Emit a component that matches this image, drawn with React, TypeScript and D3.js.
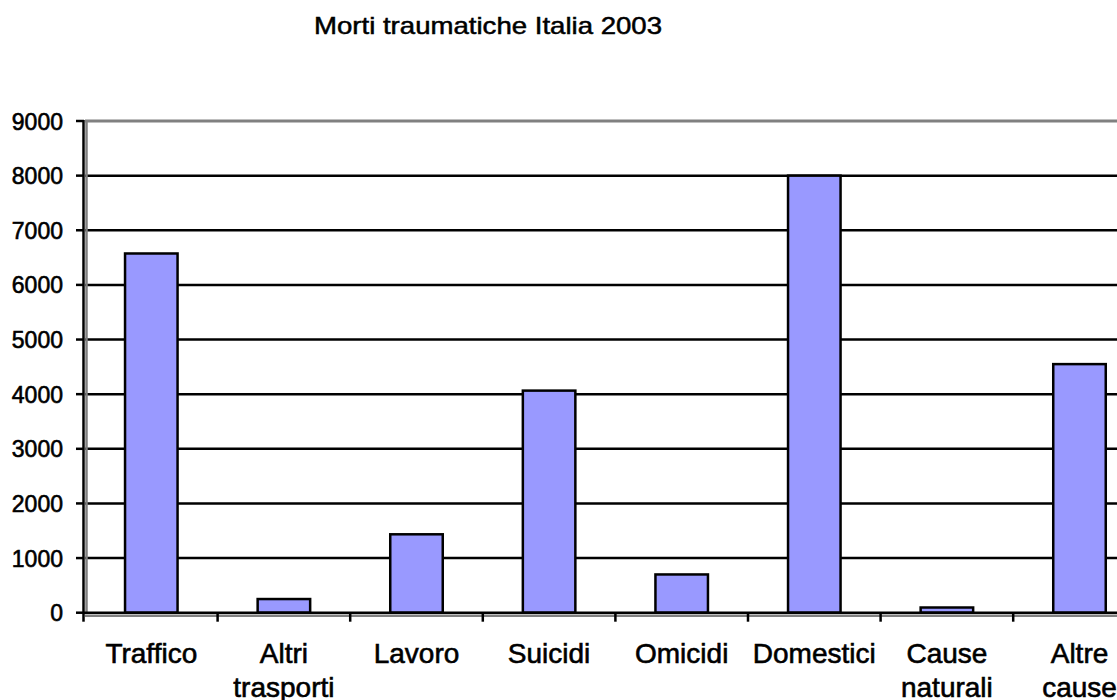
import React from "react";
import * as d3 from "d3";

const title = "Morti traumatiche Italia 2003";
const categories = [
  ["Traffico"],
  ["Altri", "trasporti"],
  ["Lavoro"],
  ["Suicidi"],
  ["Omicidi"],
  ["Domestici"],
  ["Cause", "naturali"],
  ["Altre", "cause"],
];
const values = [6575, 250, 1435, 4065, 700, 8000, 95, 4550];
const yTicks = [0, 1000, 2000, 3000, 4000, 5000, 6000, 7000, 8000, 9000];

const W = 1117;
const H = 700;
const left = 85;
const band = 132.6;
const yBottom = 612.7;
const yTop = 121;

export default function App() {
  const keys = categories.map((c) => c.join(" "));
  const x = d3
    .scaleBand<string>()
    .domain(keys)
    .range([left, left + band * keys.length])
    .paddingInner(0)
    .paddingOuter(0);
  const y = d3.scaleLinear().domain([0, 9000]).range([yBottom, yTop]);
  const barW = x.bandwidth() * 0.396;
  const font = "Arial, 'Liberation Sans', sans-serif";

  return (
    <svg
      width={W}
      height={H}
      style={{ position: "absolute", left: 0, top: 0, background: "#fff" }}
    >
      <text
        x={488}
        y={34}
        textAnchor="middle"
        fontFamily={font}
        fontSize={24}
        fill="#000"
        stroke="#000"
        strokeWidth={0.5}
        textLength={348}
        lengthAdjust="spacingAndGlyphs"
      >
        {title}
      </text>

      {/* gridlines */}
      {yTicks.slice(1, -1).map((t) => (
        <line
          key={"g" + t}
          x1={left}
          x2={W}
          y1={y(t)}
          y2={y(t)}
          stroke="#000"
          strokeWidth={2.5}
        />
      ))}
      {/* top border */}
      <line x1={left} x2={W} y1={y(9000)} y2={y(9000)} stroke="#808080" strokeWidth={3} />
      {/* gray plot borders */}
      <line x1={left + 1.5} x2={left + 1.5} y1={y(9000)} y2={yBottom} stroke="#808080" strokeWidth={2.5} />
      <line x1={left} x2={W} y1={yBottom + 3} y2={yBottom + 3} stroke="#808080" strokeWidth={2.5} />

      {/* bars */}
      {values.map((v, i) => {
        const cx = (x(keys[i]) as number) + x.bandwidth() / 2;
        return (
          <rect
            key={"b" + i}
            x={cx - barW / 2}
            y={y(v)}
            width={barW}
            height={yBottom - y(v)}
            fill="#9999FF"
            stroke="#000"
            strokeWidth={2.5}
          />
        );
      })}

      {/* axes */}
      <line x1={left - 1.5} x2={left - 1.5} y1={y(9000) - 1} y2={yBottom + 1} stroke="#000" strokeWidth={2.5} />
      <line x1={left - 1.5} x2={W} y1={yBottom} y2={yBottom} stroke="#000" strokeWidth={2.5} />

      {yTicks.map((t) => (
        <g key={"t" + t}>
          <line x1={left - 9} x2={left - 1} y1={y(t)} y2={y(t)} stroke="#000" strokeWidth={2.5} />
          <text
            x={63}
            y={y(t) + 8.5}
            textAnchor="end"
            fontFamily={font}
            fontSize={23}
            fill="#000"
            stroke="#000"
            strokeWidth={0.6}
          >
            {t}
          </text>
        </g>
      ))}

      {keys.map((k, i) => (
        <line
          key={"xt" + i}
          x1={(x(k) as number) - (i === 0 ? 1.5 : 0)}
          x2={(x(k) as number) - (i === 0 ? 1.5 : 0)}
          y1={yBottom + 1}
          y2={yBottom + 9}
          stroke="#000"
          strokeWidth={2.5}
        />
      ))}

      {categories.map((lines, i) => {
        const cx = (x(keys[i]) as number) + x.bandwidth() / 2;
        return (
          <text
            key={"c" + i}
            textAnchor="middle"
            fontFamily={font}
            fontSize={28}
            fill="#000"
            stroke="#000"
            strokeWidth={0.6}
          >
            {lines.map((l, j) => (
              <tspan key={j} x={cx} y={663 + j * 34}>
                {l}
              </tspan>
            ))}
          </text>
        );
      })}
    </svg>
  );
}
